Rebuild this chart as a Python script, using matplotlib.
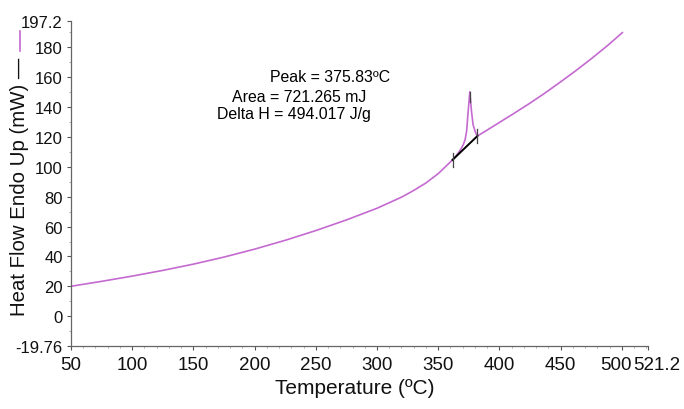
import numpy as np
import matplotlib
matplotlib.use("Agg")
import matplotlib.pyplot as plt
from matplotlib.lines import Line2D
from matplotlib.transforms import ScaledTranslation

plt.rcParams['font.family'] = ['Liberation Sans', 'DejaVu Sans']

# DSC curve (temperature in degC, heat flow in mW)
temp = [50, 75, 100, 125, 150, 175, 200, 225, 250, 275, 300, 320, 330, 340,
        350, 361.7, 364, 366.3, 368.5, 370.4, 372, 373.2, 374.5, 375.83,
        377.2, 378.5, 380.7, 382.1, 390, 400, 412, 425, 437, 450, 462,
        475, 488, 500.5]
heat_flow = [20.1, 23.4, 26.9, 30.7, 34.9, 39.6, 44.9, 50.8, 57.3, 64.4, 72.2,
             79.6, 84.1, 89.1, 95.3, 104.5, 106.6, 109.0, 111.7, 114.5, 118.0,
             123.5, 137.0, 150.0, 137.0, 127.9, 122.3, 120.5, 124.4, 129.5,
             135.6, 142.4, 149.0, 156.6, 163.8, 172.0, 180.6, 189.5]

# integration baseline and peak marker
base_t = [361.7, 382.1]
base_hf = [104.5, 120.5]
peak_t = 375.83
peak_hf = 150.0

xticks = [50, 100, 150, 200, 250, 300, 350, 400, 450, 500, 521.2]
yticks = [-19.76, 0, 20, 40, 60, 80, 100, 120, 140, 160, 180, 197.2]
notes = ["Peak = 375.83ºC", "Area = 721.265 mJ", "Delta H = 494.017 J/g"]

purple = '#c46ad0'

fig = plt.figure(figsize=(6.84, 4.10), dpi=100)
ax = fig.add_axes([0.1038, 0.1537, 0.8432, 0.7925])

ax.plot(temp, heat_flow, color=purple, lw=1.2)
ax.plot(base_t, base_hf, color='black', lw=1.4)
for t, h in zip(base_t, base_hf):
    ax.plot([t, t], [h - 4.5, h + 4.5], color='#444444', lw=0.9)
ax.plot([peak_t, peak_t], [peak_hf - 7, peak_hf], color='#444444', lw=0.9)

ax.set_xlim(xticks[0], xticks[-1])
ax.set_ylim(yticks[0], yticks[-1])
ax.set_xticks(xticks)
ax.set_xticklabels([f"{v:g}" for v in xticks])
ax.set_yticks(yticks)
ax.set_yticklabels([f"{v:g}" for v in yticks])
ax.tick_params(length=3, width=0.8, colors='#555555',
               labelcolor='#111111', direction='out')
ax.tick_params(axis='x', labelsize=13.5, pad=4)
ax.tick_params(axis='y', labelsize=12, pad=3)
ax.set_xticks(np.arange(50, 521, 10), minor=True)
ax.set_yticks(np.arange(-10, 197, 10), minor=True)
ax.tick_params(which='minor', length=1.5, width=0.5, colors='#888888')

# the last two x labels are pushed apart as in the original
xl = ax.get_xticklabels()
xl[-2].set_transform(xl[-2].get_transform() + ScaledTranslation(-0.06, 0, fig.dpi_scale_trans))
xl[-1].set_transform(xl[-1].get_transform() + ScaledTranslation(0.095, 0, fig.dpi_scale_trans))

for s in ['top', 'right']:
    ax.spines[s].set_visible(False)
for s in ['left', 'bottom']:
    ax.spines[s].set_color('#666666')
    ax.spines[s].set_linewidth(0.9)

fig.text(355 / 684, 1 - 389 / 410, "Temperature (ºC)", fontsize=15,
         color='#111111', ha='center', va='center')

# y label with the line-style key
fig.text(0.029, 0.544, "Heat Flow Endo Up (mW) —", rotation=90, fontsize=14.7,
         color='#111111', ha='center', va='center')
fig.add_artist(Line2D([0.029, 0.029], [1 - 52 / 410, 1 - 32 / 410],
                      transform=fig.transFigure, color=purple, lw=1.2))

fig.text(270 / 684, 1 - 78 / 410, notes[0], fontsize=11.4, va='center', ha='left')
fig.text(232 / 684, 1 - 98 / 410, notes[1], fontsize=11.4, va='center', ha='left')
fig.text(217 / 684, 1 - 115 / 410, notes[2], fontsize=11.4, va='center', ha='left')

fig.savefig("out.png", dpi=100)
